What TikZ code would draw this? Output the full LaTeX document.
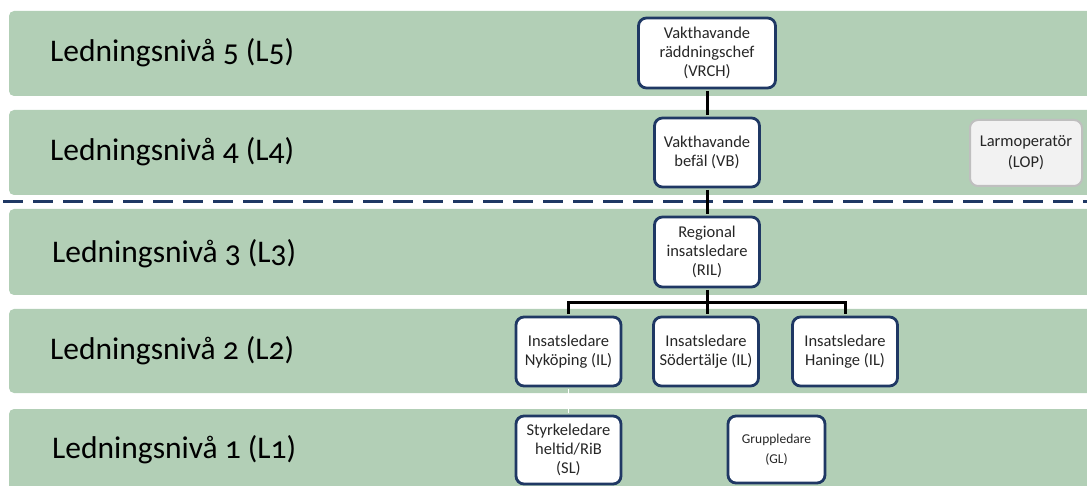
\documentclass[tikz,border=0pt]{standalone}
\usepackage{fontspec}
\setmainfont{Carlito}
\newfontfamily\levelfont[Numbers=OldStyle]{Carlito}
\definecolor{bandgreen}{RGB}{178,207,182}
\definecolor{navy}{RGB}{31,56,100}
\definecolor{lopgray}{RGB}{191,191,191}
\definecolor{lopfill}{RGB}{242,242,242}
\tikzset{
  band/.style={fill=bandgreen, rounded corners=5pt},
  level/.style={anchor=west, inner sep=0pt, text=black, font=\levelfont\fontsize{31.5}{36}\selectfont},
  role/.style={draw=navy, line width=2.8pt, fill=white, rounded corners=8pt, align=center,
    minimum width=105pt, minimum height=69pt, inner sep=2pt, text=black!85,
    font=\fontsize{16.5}{19}\selectfont},
  link/.style={line width=3pt, black, shorten <=1.4pt, shorten >=1.4pt},
}
\begin{document}
\begin{tikzpicture}[x=1pt,y=-1pt]
  \clip (0,0) rectangle (1087,486);

  % levels
  \fill[band] (9,11) rectangle (1100,96);
  \fill[band] (9,110) rectangle (1100,195);
  \fill[band] (9,209) rectangle (1100,295);
  \fill[band] (9,309) rectangle (1100,393);
  \fill[band] (9,409) rectangle (1100,500);

  \node[level] (L5) at (50,53) {Ledningsnivå 5 (L5)};
  \node[level] (L4) at (50,152) {Ledningsnivå 4 (L4)};
  \node[level] (L3) at (52,254) {Ledningsnivå 3 (L3)};
  \node[level] (L2) at (50,351) {Ledningsnivå 2 (L2)};
  \node[level] (L1) at (52,450) {Ledningsnivå 1 (L1)};

  \coordinate (sepL) at (3,202);
  \coordinate (sepR) at (1087,202);
  \draw[navy, line width=3pt, dash pattern=on 20pt off 10pt] (sepL) -- (sepR);

  % roles
  \node[role, minimum width=137pt, minimum height=70pt] (VRCH) at (707,53) {Vakthavande\\räddningschef\\(VRCH)};
  \node[role] (VB) at (707,152.5) {Vakthavande\\befäl (VB)};
  \node[role, minimum height=70pt] (RIL) at (707,252) {Regional\\insatsledare\\(RIL)};
  \node[role] (ILN) at (568.5,351.5) {Insatsledare\\Nyköping (IL)};
  \node[role] (ILS) at (706,351.5) {Insatsledare\\Södertälje (IL)};
  \node[role] (ILH) at (845,351.5) {Insatsledare\\Haninge (IL)};
  \node[role, minimum height=68pt] (SL) at (568.5,450) {Styrkeledare\\heltid/RiB\\(SL)};
  \node[role, minimum width=97pt, minimum height=67pt, font=\fontsize{13.5}{20}\selectfont] (GL) at (776.5,449.5) {Gruppledare\\(GL)};
  \node[role, draw=lopgray, fill=lopfill, line width=2pt, minimum width=112pt, minimum height=66pt,
    font=\fontsize{16.5}{21}\selectfont] (LOP) at (1026,153) {Larmoperatör\\(LOP)};

  \coordinate (split) at (707,303);
  \draw[link] (VRCH) -- (VB);
  \draw[link] (VB) -- (RIL);
  \draw[link] (RIL.south) -- (split);
  \draw[link] (ILN.north) |- (split) -| (ILH.north);
  \draw[link] (split) -- (split |- ILS.north);
  \draw[white, line width=1.5pt, shorten <=1.4pt, shorten >=1.4pt] (ILN) -- (SL);
\end{tikzpicture}
\end{document}
